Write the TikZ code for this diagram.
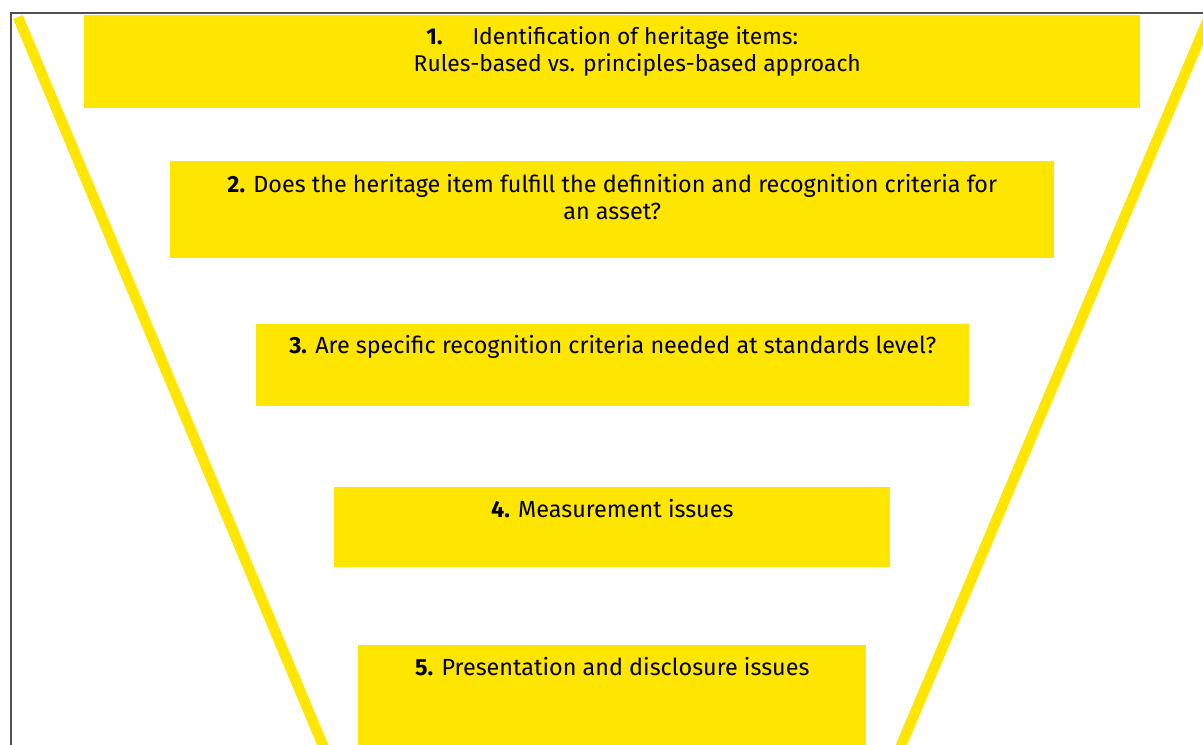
\documentclass[tikz,border=0pt]{standalone}
\usepackage{fontspec}
\setmainfont{Fira Sans}
\usetikzlibrary{positioning}
\definecolor{eyyellow}{HTML}{FFE600}
\definecolor{framegray}{HTML}{505050}

\begin{document}
\begin{tikzpicture}[x=0.02cm,y=-0.02cm,
	stage/.style={fill=eyyellow,inner sep=0pt,anchor=north west},
	stagetext/.style={inner sep=0pt,align=center,anchor=base,font=\fontsize{13.3}{15.9}\selectfont},
	funnel/.style={draw=eyyellow,line width=0.21cm}]
	\clip (0,0) rectangle (1203,744);
	% funnel sides
	\coordinate (ltop) at (18,17);
	\coordinate (lbot) at (329,760);
	\coordinate (rtop) at (1209,17);
	\coordinate (rbot) at (895,760);
	\draw[funnel] (ltop) -- (lbot);
	\draw[funnel] (rtop) -- (rbot);
	% frame
	\draw[framegray,line width=0.8pt] (11,13) rectangle (1240,780);
	% the five stages
	\node[stage,minimum width=21.12cm,minimum height=1.86cm] (b1) at (84,15) {};
	\node[stage,minimum width=17.68cm,minimum height=1.94cm] (b2) at (170,161) {};
	\node[stage,minimum width=14.26cm,minimum height=1.64cm] (b3) at (256,324) {};
	\node[stage,minimum width=11.12cm,minimum height=1.60cm] (b4) at (334,487) {};
	\node[stage,minimum width=10.16cm,minimum height=2.30cm] (b5) at (358,645) {};
	% two-line texts sit on the baseline of their last line
	\node[stagetext,font=\fontsize{13}{15.9}\selectfont] (t1) at ([xshift=0.5cm,yshift=-1.14cm]b1.north)
		{\textbf{1.}\hspace{0.6cm}Identification of heritage items:\hspace*{1cm}\\Rules-based vs. principles-based approach};
	\node[stagetext] (t2) at ([yshift=-1.18cm]b2.north)
		{\textbf{2.} Does the heritage item fulfill the definition and recognition criteria for\\an asset?};
	\node[stagetext] (t3) at ([yshift=-0.58cm]b3.north)
		{\textbf{3.} Are specific recognition criteria needed at standards level?};
	\node[stagetext] (t4) at ([yshift=-0.60cm]b4.north) {\textbf{4.} Measurement issues};
	\node[stagetext] (t5) at ([yshift=-0.60cm]b5.north) {\textbf{5.} Presentation and disclosure issues};
\end{tikzpicture}
\end{document}
